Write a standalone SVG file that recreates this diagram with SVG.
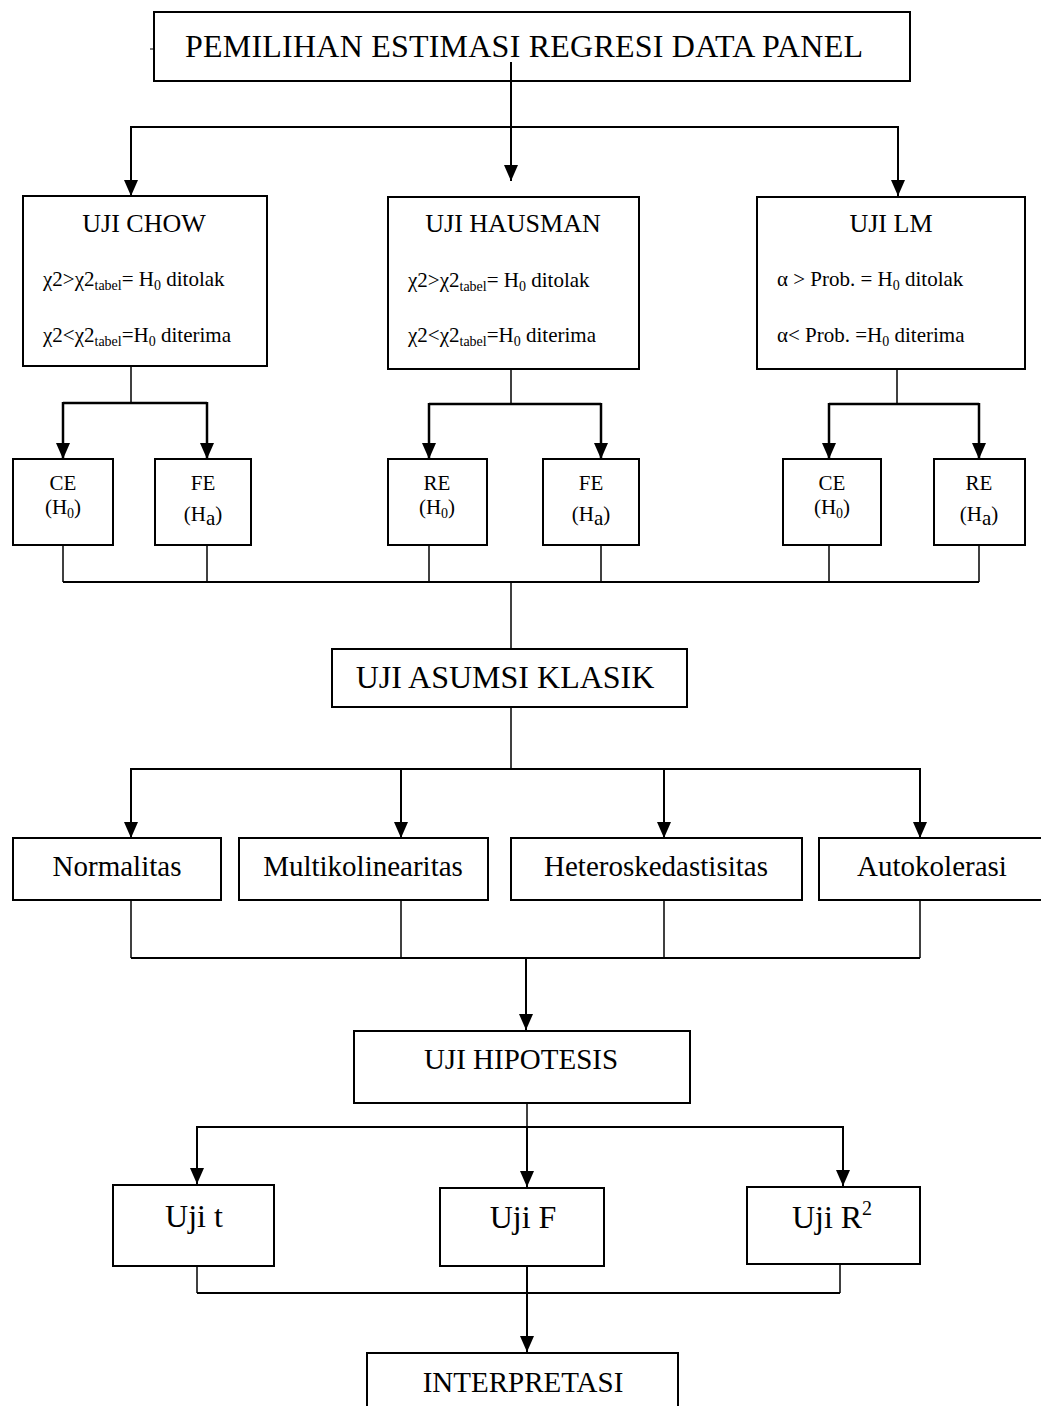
<svg xmlns="http://www.w3.org/2000/svg" width="1041" height="1406" viewBox="0 0 1041 1406">
<style>
.box{fill:#fff;stroke:#000;stroke-width:2}
.ln{fill:none;stroke:#000;stroke-width:1.5}
.ar{fill:none;stroke:#000;stroke-width:2;marker-end:url(#ah)}
text{font-family:"Liberation Serif","Times New Roman",serif;fill:#000}
.t32{font-size:32px}
.t29{font-size:29px}
.t26{font-size:26px}
.t20{font-size:21px}
.t21{font-size:21px}
.sub{font-size:14px}
.c{text-anchor:middle}
</style>
<defs>
<marker id="ah" markerUnits="userSpaceOnUse" markerWidth="16" markerHeight="14" refX="16" refY="7" orient="auto">
<path d="M0,0 L16,7 L0,14 z" fill="#000"/>
</marker>
</defs>
<rect width="1041" height="1406" fill="#fff"/>

<g id="n-top">
<rect class="box" x="154" y="12" width="756" height="69"/>
<text class="t32" x="185" y="57" textLength="678">PEMILIHAN ESTIMASI REGRESI DATA PANEL</text>
</g>

<g id="n-chow">
<rect class="box" x="23" y="196" width="244" height="170"/>
<text class="t26 c" x="144" y="232">UJI CHOW</text>
<text class="t20" x="43" y="286">χ2&gt;χ2<tspan class="sub" dy="4">tabel</tspan><tspan dy="-4">= H</tspan><tspan class="sub" dy="4">0</tspan><tspan dy="-4"> ditolak</tspan></text>
<text class="t20" x="43" y="342">χ2&lt;χ2<tspan class="sub" dy="4">tabel</tspan><tspan dy="-4">=H</tspan><tspan class="sub" dy="4">0</tspan><tspan dy="-4"> diterima</tspan></text>
</g>

<g id="n-hausman">
<rect class="box" x="388" y="197" width="251" height="172"/>
<text class="t26 c" x="513" y="232">UJI HAUSMAN</text>
<text class="t20" x="408" y="287">χ2&gt;χ2<tspan class="sub" dy="4">tabel</tspan><tspan dy="-4">= H</tspan><tspan class="sub" dy="4">0</tspan><tspan dy="-4"> ditolak</tspan></text>
<text class="t20" x="408" y="342">χ2&lt;χ2<tspan class="sub" dy="4">tabel</tspan><tspan dy="-4">=H</tspan><tspan class="sub" dy="4">0</tspan><tspan dy="-4"> diterima</tspan></text>
</g>

<g id="n-lm">
<rect class="box" x="757" y="197" width="268" height="172"/>
<text class="t26 c" x="891" y="232">UJI LM</text>
<text class="t20" x="777" y="286">α &gt; Prob. = H<tspan class="sub" dy="4">0</tspan><tspan dy="-4"> ditolak</tspan></text>
<text class="t20" x="777" y="342">α&lt; Prob. =H<tspan class="sub" dy="4">0</tspan><tspan dy="-4"> diterima</tspan></text>
</g>

<g id="n-ce1">
<rect class="box" x="13" y="459" width="100" height="86"/>
<text class="t21 c" x="63" y="490">CE</text>
<text class="t21 c" x="63" y="514">(H<tspan class="sub" dy="4">0</tspan><tspan dy="-4">)</tspan></text>
</g>
<g id="n-fe1">
<rect class="box" x="155" y="459" width="96" height="86"/>
<text class="t21 c" x="203" y="490">FE</text>
<text class="t21 c" x="203" y="521">(H<tspan dy="4">a</tspan><tspan dy="-4">)</tspan></text>
</g>
<g id="n-re1">
<rect class="box" x="388" y="459" width="99" height="86"/>
<text class="t21 c" x="437" y="490">RE</text>
<text class="t21 c" x="437" y="514">(H<tspan class="sub" dy="4">0</tspan><tspan dy="-4">)</tspan></text>
</g>
<g id="n-fe2">
<rect class="box" x="543" y="459" width="96" height="86"/>
<text class="t21 c" x="591" y="490">FE</text>
<text class="t21 c" x="591" y="521">(H<tspan dy="4">a</tspan><tspan dy="-4">)</tspan></text>
</g>
<g id="n-ce2">
<rect class="box" x="783" y="459" width="98" height="86"/>
<text class="t21 c" x="832" y="490">CE</text>
<text class="t21 c" x="832" y="514">(H<tspan class="sub" dy="4">0</tspan><tspan dy="-4">)</tspan></text>
</g>
<g id="n-re2">
<rect class="box" x="934" y="459" width="91" height="86"/>
<text class="t21 c" x="979" y="490">RE</text>
<text class="t21 c" x="979" y="521">(H<tspan dy="4">a</tspan><tspan dy="-4">)</tspan></text>
</g>

<g id="n-asumsi">
<rect class="box" x="332" y="649" width="355" height="58"/>
<text class="t32 c" x="505" y="688">UJI ASUMSI KLASIK</text>
</g>

<g id="n-normalitas">
<rect class="box" x="13" y="838" width="208" height="62"/>
<text class="t29 c" x="117" y="876">Normalitas</text>
</g>
<g id="n-multi">
<rect class="box" x="239" y="838" width="249" height="62"/>
<text class="t29 c" x="363" y="876">Multikolinearitas</text>
</g>
<g id="n-hetero">
<rect class="box" x="511" y="838" width="291" height="62"/>
<text class="t29 c" x="656" y="876">Heteroskedastisitas</text>
</g>
<g id="n-auto">
<rect class="box" x="819" y="838" width="230" height="62"/>
<text class="t29 c" x="932" y="876">Autokolerasi</text>
</g>

<g id="n-hipotesis">
<rect class="box" x="354" y="1031" width="336" height="72"/>
<text class="t29 c" x="521" y="1069">UJI HIPOTESIS</text>
</g>

<g id="n-ujit">
<rect class="box" x="113" y="1185" width="161" height="81"/>
<text class="t32 c" x="194" y="1227">Uji t</text>
</g>
<g id="n-ujif">
<rect class="box" x="440" y="1188" width="164" height="78"/>
<text class="t32 c" x="523" y="1228">Uji F</text>
</g>
<g id="n-ujir2">
<rect class="box" x="747" y="1187" width="173" height="77"/>
<text class="t32 c" x="832" y="1228">Uji R<tspan font-size="20" dy="-13">2</tspan></text>
</g>

<g id="n-interpretasi">
<rect class="box" x="367" y="1353" width="311" height="70"/>
<text class="t29 c" x="523" y="1392">INTERPRETASI</text>
</g>

<g id="connectors">
<line x1="150" y1="49" x2="154" y2="49" stroke="#000" stroke-width="1"/>
<line class="ar" x1="511" y1="62" x2="511" y2="181"/>
<polyline class="ln" points="131,127 898,127" style="stroke-width:2"/>
<line class="ar" x1="131" y1="126" x2="131" y2="196"/>
<line class="ar" x1="898" y1="126" x2="898" y2="196"/>

<line class="ln" x1="131" y1="367" x2="131" y2="403"/>
<polyline class="ln" points="63,403 207,403" style="stroke-width:2.5"/>
<line class="ar" x1="63" y1="402" x2="63" y2="459" style="stroke-width:2.5"/>
<line class="ar" x1="207" y1="402" x2="207" y2="459" style="stroke-width:2.5"/>

<line class="ln" x1="511" y1="370" x2="511" y2="404"/>
<polyline class="ln" points="429,404 601,404" style="stroke-width:2.5"/>
<line class="ar" x1="429" y1="403" x2="429" y2="459" style="stroke-width:2.5"/>
<line class="ar" x1="601" y1="403" x2="601" y2="459" style="stroke-width:2.5"/>

<line class="ln" x1="897" y1="370" x2="897" y2="404"/>
<polyline class="ln" points="829,404 979,404" style="stroke-width:2.5"/>
<line class="ar" x1="829" y1="403" x2="829" y2="459" style="stroke-width:2.5"/>
<line class="ar" x1="979" y1="403" x2="979" y2="459" style="stroke-width:2.5"/>

<line class="ln" x1="63" y1="546" x2="63" y2="582"/>
<line class="ln" x1="207" y1="546" x2="207" y2="582"/>
<line class="ln" x1="429" y1="546" x2="429" y2="582"/>
<line class="ln" x1="601" y1="546" x2="601" y2="582"/>
<line class="ln" x1="829" y1="546" x2="829" y2="582"/>
<line class="ln" x1="979" y1="546" x2="979" y2="582"/>
<line class="ln" x1="63" y1="582" x2="979" y2="582" style="stroke-width:2"/>
<line class="ln" x1="511" y1="582" x2="511" y2="648"/>

<line class="ln" x1="511" y1="708" x2="511" y2="769"/>
<line class="ln" x1="131" y1="769" x2="920" y2="769" style="stroke-width:2"/>
<line class="ar" x1="131" y1="768" x2="131" y2="838"/>
<line class="ar" x1="401" y1="768" x2="401" y2="838"/>
<line class="ar" x1="664" y1="768" x2="664" y2="838"/>
<line class="ar" x1="920" y1="768" x2="920" y2="838"/>

<line class="ln" x1="131" y1="901" x2="131" y2="958"/>
<line class="ln" x1="401" y1="901" x2="401" y2="958"/>
<line class="ln" x1="664" y1="901" x2="664" y2="958"/>
<line class="ln" x1="920" y1="901" x2="920" y2="958"/>
<line class="ln" x1="131" y1="958" x2="920" y2="958" style="stroke-width:2"/>
<line class="ar" x1="526" y1="958" x2="526" y2="1030"/>

<line class="ln" x1="527" y1="1104" x2="527" y2="1127"/>
<line class="ln" x1="197" y1="1127" x2="843" y2="1127" style="stroke-width:2"/>
<line class="ar" x1="197" y1="1126" x2="197" y2="1184"/>
<line class="ar" x1="527" y1="1126" x2="527" y2="1187"/>
<line class="ar" x1="843" y1="1126" x2="843" y2="1186"/>

<line class="ln" x1="197" y1="1267" x2="197" y2="1293"/>
<line class="ln" x1="840" y1="1265" x2="840" y2="1293"/>
<line class="ln" x1="197" y1="1293" x2="840" y2="1293" style="stroke-width:2"/>
<line class="ar" x1="527" y1="1267" x2="527" y2="1352"/>
</g>
</svg>
